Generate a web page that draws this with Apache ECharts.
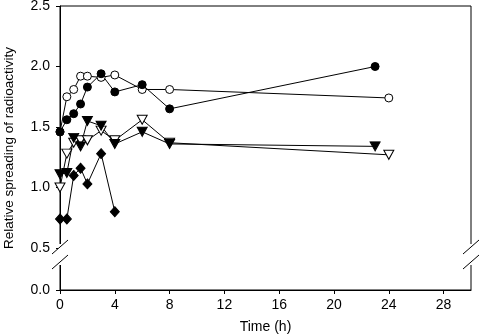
<!DOCTYPE html>
<html>
<head>
<meta charset="utf-8">
<script src="https://cdn.jsdelivr.net/npm/echarts@6/dist/echarts.min.js"></script>
<style>
  html, body { margin: 0; padding: 0; background: #fff; }
  #chart { width: 480px; height: 335px; }
</style>
</head>
<body>
<div id="chart"></div>
<script>
// times (h)
const timesA = [0, 0.5, 1, 1.5, 2, 3, 4, 6, 8, 23]
const timesB = [0, 0.5, 1, 1.5, 2, 3, 4, 6, 8, 24]
const timesEarly = [0, 0.5, 1, 1.5, 2, 3, 4]

// relative spreading values
const filledCircle = [1.46, 1.56, 1.61, 1.69, 1.83, 1.94, 1.79, 1.85, 1.65, 2.0]
const openCircle = [1.46, 1.75, 1.81, 1.92, 1.92, 1.91, 1.93, 1.81, 1.81, 1.74]
const filledTriangle = [1.11, 1.12, 1.41, 1.34, 1.55, 1.51, 1.36, 1.46, 1.36, 1.34]
const openTriangle = [1.0, 1.28, 1.37, 1.39, 1.39, 1.47, 1.39, 1.56, 1.37, 1.27]
const filledDiamond = [0.74, 0.74, 1.10, 1.16, 1.03, 1.28, 0.80]

const xTicks = [0, 4, 8, 12, 16, 20, 24, 28]
// y axis is broken below 0.5; its bottom end is labelled 0.0
const yBottom = 0.153
const yTicks = [yBottom, 0.5, 1.0, 1.5, 2.0, 2.5]

const font = 'Liberation Sans, Arial, sans-serif'

function pairs(xs, ys) {
  return ys.map((y, i) => [xs[i], y])
}

function makeSeries(name, xs, ys, symbol, filled, size, rotate) {
  return {
    name: name,
    type: 'line',
    data: pairs(xs, ys),
    symbol: symbol,
    symbolSize: size,
    symbolRotate: rotate || 0,
    showAllSymbol: true,
    lineStyle: { color: '#000', width: 1 },
    itemStyle: {
      color: filled ? '#000' : '#fff',
      borderColor: '#000',
      borderWidth: 1
    },
    emphasis: { disabled: true },
    animation: false
  }
}

const chart = echarts.init(document.getElementById('chart'))

chart.setOption({
  backgroundColor: '#fff',
  animation: false,
  grid: {
    left: 60,
    right: 9,
    top: 6,
    bottom: 45,
    outerBoundsMode: 'none',
    containLabel: false,
    show: true,
    borderColor: '#000',
    borderWidth: 1,
    backgroundColor: 'transparent'
  },
  xAxis: {
    type: 'value',
    min: 0,
    max: 30,
    name: 'Time (h)',
    nameLocation: 'middle',
    nameGap: 30,
    nameTextStyle: { fontFamily: font, fontSize: 14, color: '#000' },
    axisLine: { show: true, lineStyle: { color: '#000', width: 1 } },
    axisTick: { show: true, length: 4, customValues: xTicks, lineStyle: { color: '#000' } },
    axisLabel: {
      customValues: xTicks,
      margin: 8,
      fontFamily: font,
      fontSize: 14,
      color: '#000'
    },
    splitLine: { show: false }
  },
  yAxis: {
    type: 'value',
    min: yBottom,
    max: 2.5,
    name: 'Relative spreading of radioactivity',
    nameLocation: 'middle',
    nameGap: 44,
    nameTextStyle: { fontFamily: font, fontSize: 13.5, color: '#000' },
    axisLine: { show: true, lineStyle: { color: '#000', width: 1 } },
    axisTick: { show: true, length: 4, customValues: yTicks, lineStyle: { color: '#000' } },
    axisLabel: {
      customValues: yTicks,
      margin: 10,
      fontFamily: font,
      fontSize: 14,
      color: '#000',
      formatter: v => (v < 0.2 ? '0.0' : v.toFixed(1))
    },
    splitLine: { show: false }
  },
  series: [
    makeSeries('open circle', timesB, openCircle, 'circle', false, 8),
    makeSeries('filled circle', timesA, filledCircle, 'circle', true, 8),
    makeSeries('open triangle', timesB, openTriangle, 'triangle', false, [10, 9], 180),
    makeSeries('filled triangle', timesA, filledTriangle, 'triangle', true, [10, 9], 180),
    makeSeries('filled diamond', timesEarly, filledDiamond, 'diamond', true, [9, 10])
  ]
})

// axis break marks on both vertical edges
const leftX = chart.convertToPixel({ gridIndex: 0 }, [0, 0.5])[0]
const rightX = chart.convertToPixel({ gridIndex: 0 }, [30, 0.5])[0]
const yMid = chart.convertToPixel({ gridIndex: 0 }, [0, 0.5])[1]
const y1 = yMid - 1
const y2 = yMid + 14
const breakMarks = []
;[leftX, rightX].forEach(x => {
  breakMarks.push({
    type: 'rect',
    shape: { x: x - 2, y: y1 - 3, width: 4, height: y2 - y1 + 6 },
    style: { fill: '#fff' },
    z: 100
  })
  ;[y1, y2].forEach(y => {
    breakMarks.push({
      type: 'line',
      shape: { x1: x - 8, y1: y + 7, x2: x + 8, y2: y - 7 },
      style: { stroke: '#000', lineWidth: 1 },
      z: 101
    })
  })
})
chart.setOption({ graphic: breakMarks })
</script>
</body>
</html>
